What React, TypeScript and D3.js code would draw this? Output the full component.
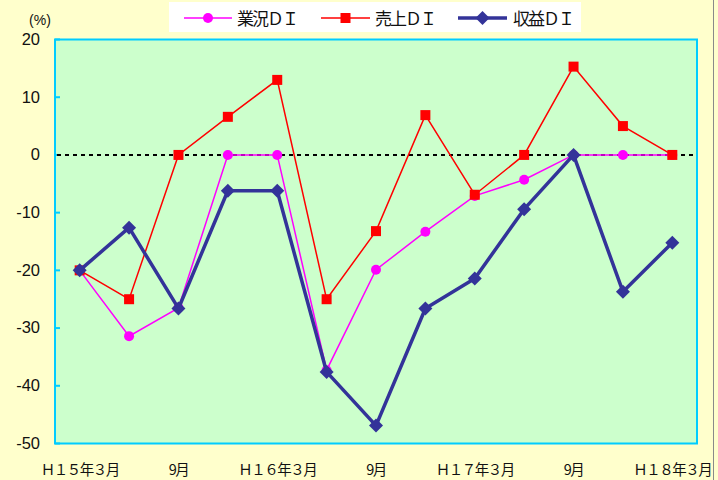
import React from "react";
import * as d3 from "d3";

const categories = ["H15/3", "H15/6", "H15/9", "H15/12", "H16/3", "H16/6", "H16/9", "H16/12", "H17/3", "H17/6", "H17/9", "H17/12", "H18/3"];
const xTickLabels = ["Ｈ１５年３月", "", "9月", "", "Ｈ１６年３月", "", "9月", "", "Ｈ１７年３月", "", "9月", "", "Ｈ１８年３月"];
const gyokyo = [-20, -31.4, -26.5, 0, 0, -37.3, -19.9, -13.3, -7.1, -4.3, 0, 0, 0];
const uriage = [-20, -25, 0, 6.6, 13.0, -25, -13.2, 6.9, -6.9, 0, 15.3, 5, 0];
const shueki = [-20, -12.6, -26.6, -6.2, -6.2, -37.6, -46.9, -26.6, -21.4, -9.4, 0, -23.7, -15.2];
const yTicks = [20, 10, 0, -10, -20, -30, -40, -50];
const seriesNames = ["業況ＤＩ", "売上ＤＩ", "収益ＤＩ"];

const W = 718, H = 480;
const L = 55, R = 697, T = 39.5, B = 443.5;

export default function App() {
  const x = d3.scaleBand<string>().domain(categories).range([L, R]);
  const y = d3.scaleLinear().domain([-50, 20]).range([B, T]);
  const cx = (c: string) => (x(c) as number) + x.bandwidth() / 2;
  const line = d3.line<number>().x((_, i) => cx(categories[i])).y((d) => y(d));

  const diamond = (px: number, py: number, r: number) =>
    `M${px},${py - r}L${px + r},${py}L${px},${py + r}L${px - r},${py}Z`;

  const jp = "'Noto Sans CJK JP', 'Noto Sans', sans-serif";
  const legendY = 18;
  const legendItems = [
    { x0: 184, x1: 232, tx: 237, color: "#FF00FF", w: 1.5, kind: "circle" },
    { x0: 321, x1: 370, tx: 375, color: "#FF0000", w: 1.5, kind: "square" },
    { x0: 458, x1: 507, tx: 513, color: "#333399", w: 3.5, kind: "diamond" },
  ];

  return (
    <svg width={W} height={H} style={{ position: "absolute", left: 0, top: 0, display: "block" }}>
      <rect x={0} y={0} width={W} height={H} fill="#FFFFCC" />
      <line x1={713.5} x2={713.5} y1={0} y2={H} stroke="#8a8a8a" strokeWidth={1} />
      <rect x={L} y={T} width={R - L} height={B - T} fill="#CCFFCC" stroke="#00CCFF" strokeWidth={2} />
      {yTicks.map((t) => (
        <g key={t}>
          <line x1={L} x2={L + 5} y1={y(t)} y2={y(t)} stroke="#00CCFF" strokeWidth={2} />
          <text x={40} y={y(t) + 1} textAnchor="end" dominantBaseline="middle" fontFamily="'Liberation Sans', Arial, sans-serif" fontSize={16.5} fill="#111">
            {t}
          </text>
        </g>
      ))}
      <text x={40} y={25} textAnchor="middle" fontFamily="'Liberation Sans', Arial, sans-serif" fontSize={14} fill="#111">(%)</text>
      <line x1={L + 2} x2={R} y1={y(0)} y2={y(0)} stroke="#000" strokeWidth={2} strokeDasharray="4,4" />
      {xTickLabels.map((lab, i) =>
        lab ? (
          <text key={i} x={cx(categories[i])} y={475} textAnchor="middle" fontFamily={jp} fontSize={14.5} letterSpacing={-1.5} fill="#111">
            {lab}
          </text>
        ) : null
      )}
      <path d={line(gyokyo) || ""} fill="none" stroke="#FF00FF" strokeWidth={1.5} />
      {gyokyo.map((v, i) => (
        <circle key={"g" + i} cx={cx(categories[i])} cy={y(v)} r={5} fill="#FF00FF" />
      ))}
      <path d={line(uriage) || ""} fill="none" stroke="#FF0000" strokeWidth={1.5} />
      {uriage.map((v, i) => (
        <rect key={"u" + i} x={cx(categories[i]) - 5} y={y(v) - 5} width={10} height={10} fill="#FF0000" />
      ))}
      <path d={line(shueki) || ""} fill="none" stroke="#333399" strokeWidth={3.5} strokeLinejoin="round" />
      {shueki.map((v, i) => (
        <path key={"s" + i} d={diamond(cx(categories[i]), y(v), 7)} fill="#333399" />
      ))}
      <rect x={169} y={2} width={412} height={30} fill="#FFFFFF" />
      {legendItems.map((it, i) => {
        const mx = (it.x0 + it.x1) / 2;
        return (
          <g key={i}>
            <line x1={it.x0} x2={it.x1} y1={legendY} y2={legendY} stroke={it.color} strokeWidth={it.w} />
            {it.kind === "circle" && <circle cx={mx} cy={legendY} r={5} fill={it.color} />}
            {it.kind === "square" && <rect x={mx - 5} y={legendY - 5} width={10} height={10} fill={it.color} />}
            {it.kind === "diamond" && <path d={diamond(mx, legendY, 7)} fill={it.color} />}
            <text x={it.tx} y={legendY + 6.5} fontFamily={jp} fontSize={17} letterSpacing={-2} fill="#111">
              {seriesNames[i]}
            </text>
          </g>
        );
      })}
    </svg>
  );
}
